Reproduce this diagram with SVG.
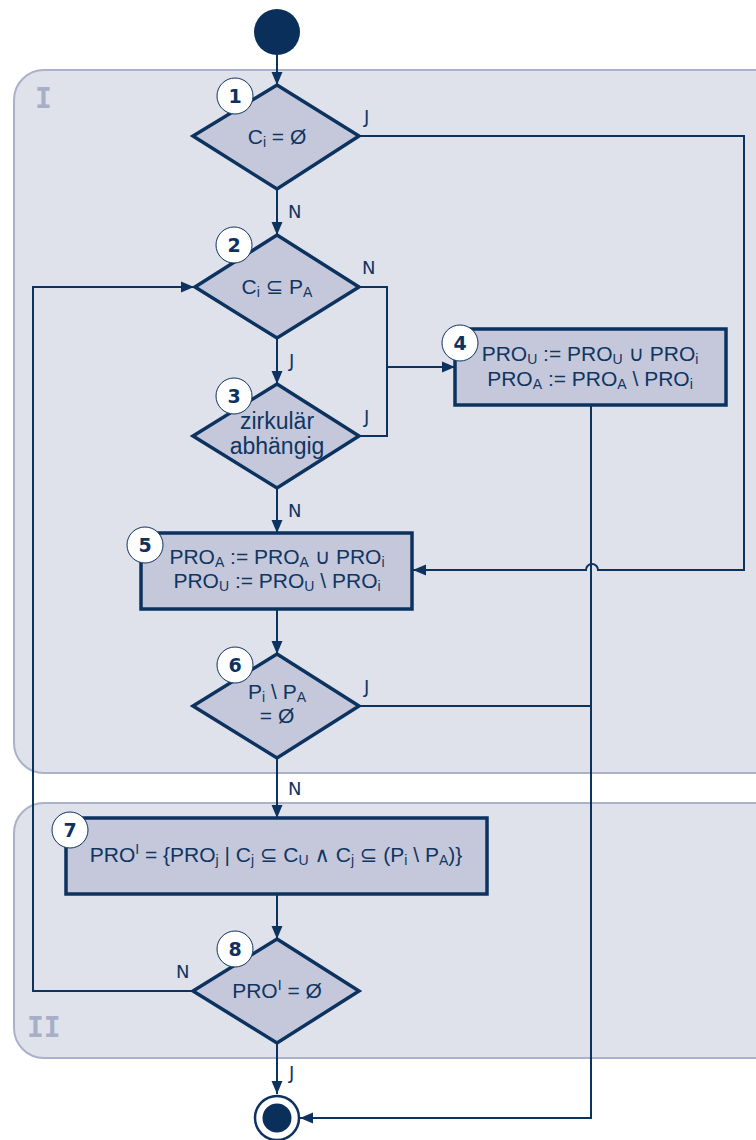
<svg xmlns="http://www.w3.org/2000/svg" width="756" height="1140" viewBox="0 0 756 1140">
<style>
.region{fill:#dfe2eb;stroke:#aab1c9;stroke-width:2}
.rlabel{font-family:"DejaVu Sans Mono","Liberation Mono",monospace;font-weight:bold;font-size:28px;fill:#a9aec7}
.shape{fill:#c5c8da;stroke:#0c3360;stroke-width:3.5;stroke-linejoin:miter}
.conn{fill:none;stroke:#0c3360;stroke-width:2}
.badge circle{fill:#ffffff;stroke:#0c3360;stroke-width:1}
.badge text{font-family:"DejaVu Sans",Verdana,sans-serif;font-weight:bold;font-size:19px;fill:#0c3360;text-anchor:middle}
.t{font-family:"Liberation Sans",Arial,"DejaVu Sans",sans-serif;font-size:21px;fill:#0f3562;text-anchor:middle}
.big{font-size:23px}
.lbl{font-family:"DejaVu Sans",Verdana,sans-serif;font-size:18px;fill:#0f3562}
.s{font-size:14px}
</style>
<defs>
<marker id="arr" markerUnits="userSpaceOnUse" markerWidth="14" markerHeight="14" viewBox="0 0 14 14" refX="13" refY="7" orient="auto">
<path d="M0,1.5 L13,7 L0,12.5 Z" fill="#0c3360"/>
</marker>
</defs>

<g id="regions">
<rect class="region" x="14" y="70" width="780" height="703" rx="30"/>
<rect class="region" x="14" y="803" width="780" height="255" rx="30"/>
<text class="rlabel" x="35" y="108">I</text>
<text class="rlabel" x="27" y="1037">II</text>
</g>

<g id="connectors">
<path class="conn" d="M277,55 V85" marker-end="url(#arr)"/>
<path class="conn" d="M359,136 H744 V570 H598 A6,6 0 0 0 586,570 H413" marker-end="url(#arr)"/>
<path class="conn" d="M277,189 V235" marker-end="url(#arr)"/>
<path class="conn" d="M359,287 H387 V436 H359"/>
<path class="conn" d="M387,367 H455" marker-end="url(#arr)"/>
<path class="conn" d="M277,338 V384" marker-end="url(#arr)"/>
<path class="conn" d="M277,488 V533" marker-end="url(#arr)"/>
<path class="conn" d="M277,609 V654" marker-end="url(#arr)"/>
<path class="conn" d="M359,706 H591"/>
<path class="conn" d="M591,405 V1118 H300" marker-end="url(#arr)"/>
<path class="conn" d="M277,758 V818" marker-end="url(#arr)"/>
<path class="conn" d="M277,894 V939" marker-end="url(#arr)"/>
<path class="conn" d="M193,991 H33 V287 H194" marker-end="url(#arr)"/>
<path class="conn" d="M277,1043 V1094" marker-end="url(#arr)"/>
<text class="lbl" x="364" y="123">J</text>
<text class="lbl" x="288" y="218">N</text>
<text class="lbl" x="362" y="274">N</text>
<text class="lbl" x="289" y="367">J</text>
<text class="lbl" x="364" y="423">J</text>
<text class="lbl" x="288" y="517">N</text>
<text class="lbl" x="364" y="693">J</text>
<text class="lbl" x="288" y="795">N</text>
<text class="lbl" x="176" y="978">N</text>
<text class="lbl" x="289" y="1079">J</text>
</g>

<g id="start">
<circle cx="277" cy="32" r="23" fill="#0b2f5b"/>
</g>

<g id="node1">
<polygon class="shape" points="277,85 359,136 277,189 193,136"/>
<text class="t" x="277" y="144">C<tspan class="s" dy="3">i</tspan><tspan dy="-3"> = Ø</tspan></text>
<g class="badge"><circle cx="235" cy="96" r="18"/><text x="235" y="103">1</text></g>
</g>

<g id="node2">
<polygon class="shape" points="277,235 359,287 277,338 195,287"/>
<text class="t" x="277" y="294">C<tspan class="s" dy="3">i</tspan><tspan dy="-3"> ⊆ P</tspan><tspan class="s" dy="3">A</tspan></text>
<g class="badge"><circle cx="234" cy="245" r="18"/><text x="234" y="252">2</text></g>
</g>

<g id="node3">
<polygon class="shape" points="277,384 359,436 277,488 193,436"/>
<text class="t big" x="277" y="429">zirkulär</text>
<text class="t big" x="277" y="454">abhängig</text>
<g class="badge"><circle cx="234" cy="396" r="18"/><text x="234" y="403">3</text></g>
</g>

<g id="node4">
<rect class="shape" x="455" y="329" width="271" height="76"/>
<text class="t" x="590" y="361">PRO<tspan class="s" dy="3">U</tspan><tspan dy="-3"> := PRO</tspan><tspan class="s" dy="3">U</tspan><tspan dy="-3"> ∪ PRO</tspan><tspan class="s" dy="3">i</tspan></text>
<text class="t" x="590" y="386">PRO<tspan class="s" dy="3">A</tspan><tspan dy="-3"> := PRO</tspan><tspan class="s" dy="3">A</tspan><tspan dy="-3"> \ PRO</tspan><tspan class="s" dy="3">i</tspan></text>
<g class="badge"><circle cx="460" cy="343" r="18"/><text x="460" y="350">4</text></g>
</g>

<g id="node5">
<rect class="shape" x="141" y="533" width="271" height="76"/>
<text class="t" x="277" y="564">PRO<tspan class="s" dy="3">A</tspan><tspan dy="-3"> := PRO</tspan><tspan class="s" dy="3">A</tspan><tspan dy="-3"> ∪ PRO</tspan><tspan class="s" dy="3">i</tspan></text>
<text class="t" x="277" y="588">PRO<tspan class="s" dy="3">U</tspan><tspan dy="-3"> := PRO</tspan><tspan class="s" dy="3">U</tspan><tspan dy="-3"> \ PRO</tspan><tspan class="s" dy="3">i</tspan></text>
<g class="badge"><circle cx="145" cy="545" r="18"/><text x="145" y="552">5</text></g>
</g>

<g id="node6">
<polygon class="shape" points="277,654 359,706 277,758 193,706"/>
<text class="t" x="277" y="699">P<tspan class="s" dy="3">i</tspan><tspan dy="-3"> \ P</tspan><tspan class="s" dy="3">A</tspan></text>
<text class="t" x="277" y="723">= Ø</text>
<g class="badge"><circle cx="235" cy="665" r="18"/><text x="235" y="672">6</text></g>
</g>

<g id="node7">
<rect class="shape" x="66" y="818" width="421" height="76"/>
<text class="t" x="276" y="862">PRO<tspan class="s" dy="-8">I</tspan><tspan dy="8"> = {PRO</tspan><tspan class="s" dy="3">j</tspan><tspan dy="-3"> | C</tspan><tspan class="s" dy="3">j</tspan><tspan dy="-3"> ⊆ C</tspan><tspan class="s" dy="3">U</tspan><tspan dy="-3"> ∧ C</tspan><tspan class="s" dy="3">j</tspan><tspan dy="-3"> ⊆ (P</tspan><tspan class="s" dy="3">i</tspan><tspan dy="-3"> \ P</tspan><tspan class="s" dy="3">A</tspan><tspan dy="-3">)}</tspan></text>
<g class="badge"><circle cx="70" cy="830" r="18"/><text x="70" y="837">7</text></g>
</g>

<g id="node8">
<polygon class="shape" points="277,939 359,991 277,1043 193,991"/>
<text class="t" x="277" y="998">PRO<tspan class="s" dy="-8">I</tspan><tspan dy="8"> = Ø</tspan></text>
<g class="badge"><circle cx="235" cy="949" r="18"/><text x="235" y="956">8</text></g>
</g>

<g id="end">
<circle cx="277" cy="1118" r="22" fill="#ffffff" stroke="#0c3360" stroke-width="2.5"/>
<circle cx="277" cy="1118" r="14.5" fill="#0b2f5b"/>
</g>
</svg>
